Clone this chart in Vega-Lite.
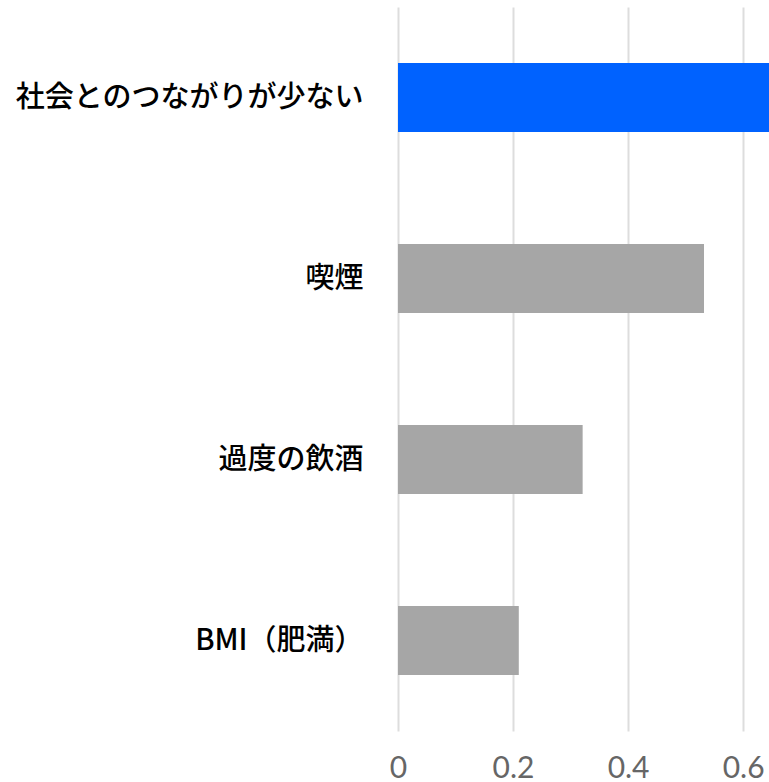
{
  "$schema": "https://vega.github.io/schema/vega-lite/v6.json",
  "autosize": "none",
  "padding": {"left": 398, "top": 7, "right": 0, "bottom": 51},
  "width": 371,
  "height": 724,
  "background": "white",
  "config": {"view": {"stroke": null}},
  "data": {
    "values": [
      {"factor": "社会とのつながりが少ない", "value": 0.66, "highlight": "yes"},
      {"factor": "喫煙", "value": 0.532, "highlight": "no"},
      {"factor": "過度の飲酒", "value": 0.321, "highlight": "no"},
      {"factor": "BMI（肥満）", "value": 0.21, "highlight": "no"}
    ]
  },
  "mark": {"type": "bar", "clip": true},
  "encoding": {
    "y": {
      "field": "factor",
      "type": "nominal",
      "sort": null,
      "scale": {"paddingInner": 0.62, "paddingOuter": 0.31},
      "axis": {
        "title": null,
        "ticks": false,
        "domain": false,
        "labelFont": "Noto Sans CJK JP",
        "labelFontSize": 29,
        "labelFontWeight": 500,
        "labelColor": "#000000",
        "labelPadding": 35,
        "labelLimit": 400
      }
    },
    "x": {
      "field": "value",
      "type": "quantitative",
      "scale": {"domain": [0, 0.645], "nice": false},
      "axis": {
        "title": null,
        "values": [0, 0.2, 0.4, 0.6],
        "format": "~g",
        "ticks": false,
        "domain": false,
        "grid": true,
        "gridColor": "#dddddd",
        "gridWidth": 2,
        "labelFont": "Lato",
        "labelFontSize": 30,
        "labelColor": "#666666",
        "labelPadding": 22,
        "labelFlush": false
      }
    },
    "color": {
      "field": "highlight",
      "type": "nominal",
      "scale": {"domain": ["yes", "no"], "range": ["#0062ff", "#a6a6a6"]},
      "legend": null
    }
  }
}
